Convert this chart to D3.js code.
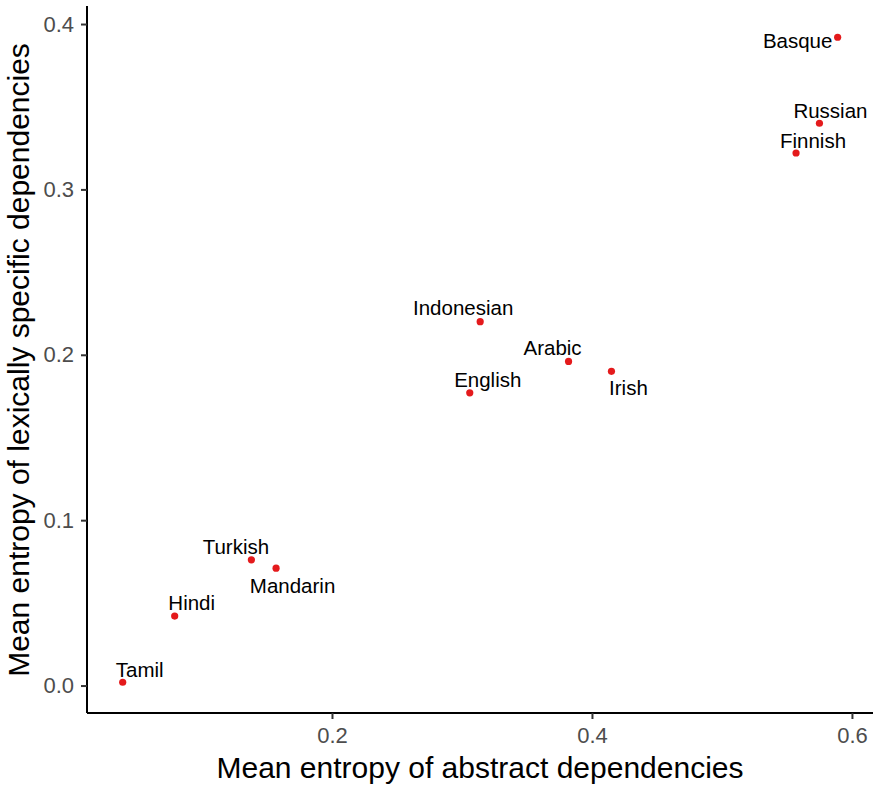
<!DOCTYPE html>
<html lang="en">
<head>
    <meta charset="UTF-8">
    <title>Entropy of dependencies</title>
    <script src="https://cdn.jsdelivr.net/npm/d3@7"></script>
    <style>
        body { margin: 0; background: #fff; }
        text { font-family: "Liberation Sans", Arial, sans-serif; }
    </style>
</head>
<body>
<div id="chart"></div>
<script>
    // languages and their mean entropies
    var languages = ["Tamil", "Hindi", "Turkish", "Mandarin", "Indonesian", "English",
                     "Arabic", "Irish", "Basque", "Russian", "Finnish"];
    var abstractEntropy = [0.039, 0.079, 0.138, 0.157, 0.314, 0.306, 0.382, 0.415, 0.589, 0.575, 0.557];
    var lexicalEntropy  = [0.002, 0.042, 0.076, 0.071, 0.220, 0.177, 0.196, 0.190, 0.392, 0.340, 0.322];
    var xTicks = [0.2, 0.4, 0.6];
    var yTicks = [0.0, 0.1, 0.2, 0.3, 0.4];

    // where the repelled labels ended up, relative to the point (px)
    var labelShift = {
        Tamil: [17, -13], Hindi: [17, -14], Turkish: [-15.5, -13], Mandarin: [16.5, 17],
        Indonesian: [-17, -14], English: [18, -13], Arabic: [-16, -14], Irish: [17, 16],
        Basque: [-40, 3], Russian: [11, -12.5], Finnish: [17, -13]
    };

    var width = 873, height = 789;
    var panel = {left: 87, right: 873, top: 6, bottom: 713};

    var data = languages.map(function(d, i){
        return {name: d, x: abstractEntropy[i], y: lexicalEntropy[i]};
    });

    var x = d3.scaleLinear().domain([0.01154, 0.6162]).range([panel.left, panel.right]);
    var y = d3.scaleLinear().domain([-0.0166, 0.4109]).range([panel.bottom, panel.top]);

    var svg = d3.select("#chart").append("svg")
            .attr("width", width)
            .attr("height", height);

    var xAxis = svg.append("g")
            .attr("transform", "translate(0," + panel.bottom + ")")
            .call(d3.axisBottom(x).tickValues(xTicks).tickFormat(d3.format(".1f")).tickSize(6).tickPadding(8));
    var yAxis = svg.append("g")
            .attr("transform", "translate(" + panel.left + ",0)")
            .call(d3.axisLeft(y).tickValues(yTicks).tickFormat(d3.format(".1f")).tickSize(6).tickPadding(7));

    [xAxis, yAxis].forEach(function(ax){
        ax.attr("font-size", null).attr("font-family", null);
        ax.select(".domain").attr("stroke", "#000").attr("stroke-width", 2);
        ax.selectAll(".tick line").attr("stroke", "#333").attr("stroke-width", 2);
        ax.selectAll(".tick text")
                .attr("fill", "#4d4d4d")
                .style("font-size", "22px");
    });
    // domain lines run to the panel corners like ggplot
    xAxis.select(".domain").attr("d", "M" + panel.left + ",0H" + panel.right);
    yAxis.select(".domain").attr("d", "M0," + panel.top + "V" + panel.bottom);

    svg.selectAll("circle")
            .data(data)
            .enter()
            .append("circle")
            .attr("cx", function(d){ return x(d.x); })
            .attr("cy", function(d){ return y(d.y); })
            .attr("r", 3.6)
            .attr("fill", "#e41a1c");

    svg.selectAll("text.label")
            .data(data)
            .enter()
            .append("text")
            .attr("class", "label")
            .attr("x", function(d){ return x(d.x) + labelShift[d.name][0]; })
            .attr("y", function(d){ return y(d.y) + labelShift[d.name][1] + 7.5; })
            .attr("text-anchor", "middle")
            .style("font-size", "20.5px")
            .attr("fill", "#000")
            .text(function(d){ return d.name; });

    svg.append("text")
            .attr("x", 480)
            .attr("y", 778)
            .attr("text-anchor", "middle")
            .style("font-size", "30px")
            .text("Mean entropy of abstract dependencies");

    svg.append("text")
            .attr("transform", "translate(29,360) rotate(-90)")
            .attr("text-anchor", "middle")
            .style("font-size", "30px")
            .text("Mean entropy of lexically specific dependencies");
</script>
</body>
</html>
